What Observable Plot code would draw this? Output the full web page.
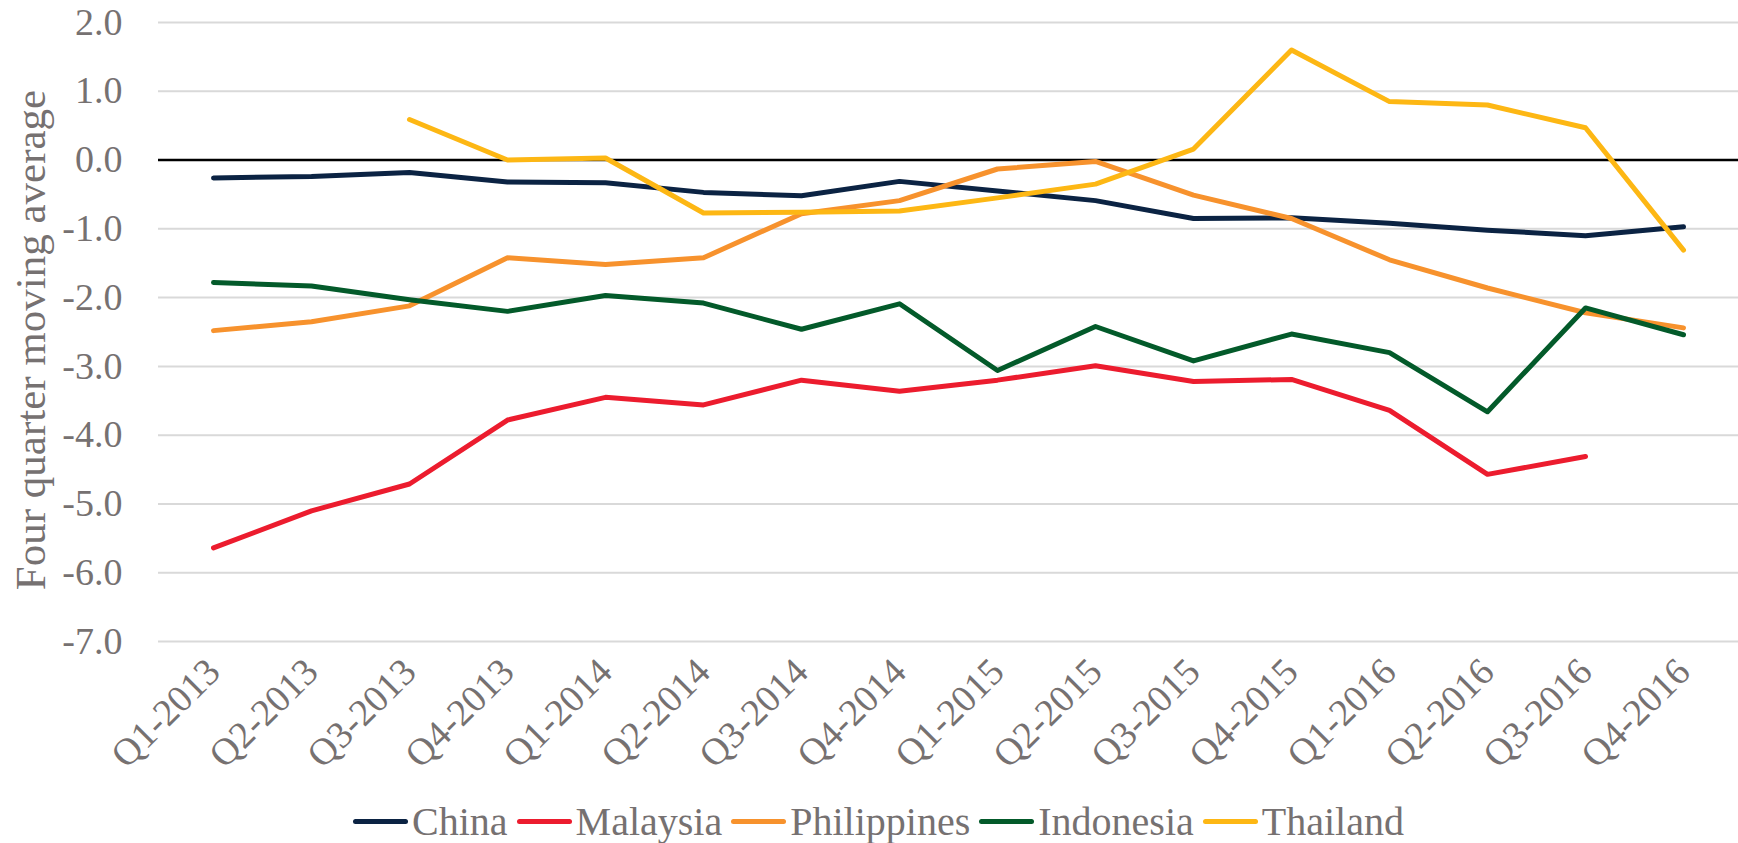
<!DOCTYPE html>
<html>
<head>
<meta charset="utf-8">
<script src="https://cdn.jsdelivr.net/npm/d3@7"></script>
<script src="https://cdn.jsdelivr.net/npm/@observablehq/plot@0.6"></script>
<style>
  html, body { margin: 0; padding: 0; background: #fff; }
  body { width: 1738px; height: 843px; overflow: hidden; font-family: "Liberation Serif", serif; }
  #legend { display: flex; justify-content: center; align-items: center; height: 43px; line-height: 42px; padding-left: 28px; color: #767171; font-size: 40px; }
  .item { display: flex; align-items: center; margin-right: 9px; }
  .sw { width: 55px; height: 5px; border-radius: 3px; margin-right: 4px; }
</style>
</head>
<body>
<div id="chart"></div>
<div id="legend"></div>
<script>
const quarters = ["Q1-2013","Q2-2013","Q3-2013","Q4-2013","Q1-2014","Q2-2014","Q3-2014","Q4-2014","Q1-2015","Q2-2015","Q3-2015","Q4-2015","Q1-2016","Q2-2016","Q3-2016","Q4-2016"];
const seriesNames = ["China","Malaysia","Philippines","Indonesia","Thailand"];
const seriesColors = ["#0b2343","#ec1c2e","#f7922d","#035a2a","#fdb714"];
const china = [-0.26,-0.24,-0.18,-0.32,-0.33,-0.47,-0.52,-0.31,-0.45,-0.59,-0.85,-0.84,-0.92,-1.02,-1.10,-0.97];
const malaysia = [-5.64,-5.10,-4.71,-3.78,-3.45,-3.56,-3.20,-3.36,-3.20,-2.99,-3.22,-3.19,-3.64,-4.57,-4.31,null];
const philippines = [-2.48,-2.35,-2.12,-1.42,-1.52,-1.42,-0.78,-0.59,-0.13,-0.02,-0.51,-0.85,-1.45,-1.86,-2.22,-2.44];
const indonesia = [-1.78,-1.83,-2.03,-2.20,-1.97,-2.08,-2.46,-2.09,-3.06,-2.42,-2.92,-2.53,-2.80,-3.66,-2.15,-2.54];
const thailand = [null,null,0.59,0.00,0.03,-0.77,-0.76,-0.74,-0.55,-0.35,0.16,1.60,0.85,0.80,0.47,-1.31];
const yTicks = [-7,-6,-5,-4,-3,-2,-1,0,1,2];
const yLabel = "Four quarter moving average";

const seriesValues = [china, malaysia, philippines, indonesia, thailand];
const rows = [];
seriesNames.forEach((name, i) => {
  quarters.forEach((q, j) => {
    rows.push({series: name, q, v: seriesValues[i][j]});
  });
});

const textColor = "#767171";
const chart = Plot.plot({
  width: 1738,
  height: 800,
  marginLeft: 158,
  marginRight: 0,
  marginTop: 22,
  marginBottom: 159,
  style: {fontFamily: "Liberation Serif, serif", color: textColor, background: "#fff"},
  x: {type: "point", domain: quarters, padding: 0.5},
  y: {domain: [-7, 2]},
  color: {domain: seriesNames, range: seriesColors},
  marks: [
    Plot.gridY(yTicks.filter(d => d !== 0), {stroke: "#d9d9d9", strokeOpacity: 1, strokeWidth: 2}),
    Plot.ruleY([0], {stroke: "#000", strokeWidth: 2.5}),
    Plot.axisY(yTicks, {tickSize: 0, tickPadding: 36, fontSize: 38, tickFormat: d => d.toFixed(1), label: null, fill: textColor}),
    Plot.axisX({tickSize: 0, tickPadding: 24, tickRotate: -45, fontSize: 38, label: null, fill: textColor}),
    Plot.text([yLabel], {frameAnchor: "left", textAnchor: "middle", dx: -127, dy: 8, rotate: -90, fontSize: 43, fill: textColor}),
    Plot.line(rows, {x: "q", y: "v", z: "series", stroke: "series", strokeWidth: 5, strokeLinejoin: "round", strokeLinecap: "round"})
  ]
});
document.getElementById("chart").appendChild(chart);

const legend = document.getElementById("legend");
seriesNames.forEach((name, i) => {
  const item = document.createElement("div");
  item.className = "item";
  const sw = document.createElement("div");
  sw.className = "sw";
  sw.style.background = seriesColors[i];
  const label = document.createElement("span");
  label.textContent = name;
  item.appendChild(sw);
  item.appendChild(label);
  legend.appendChild(item);
});
</script>
</body>
</html>
